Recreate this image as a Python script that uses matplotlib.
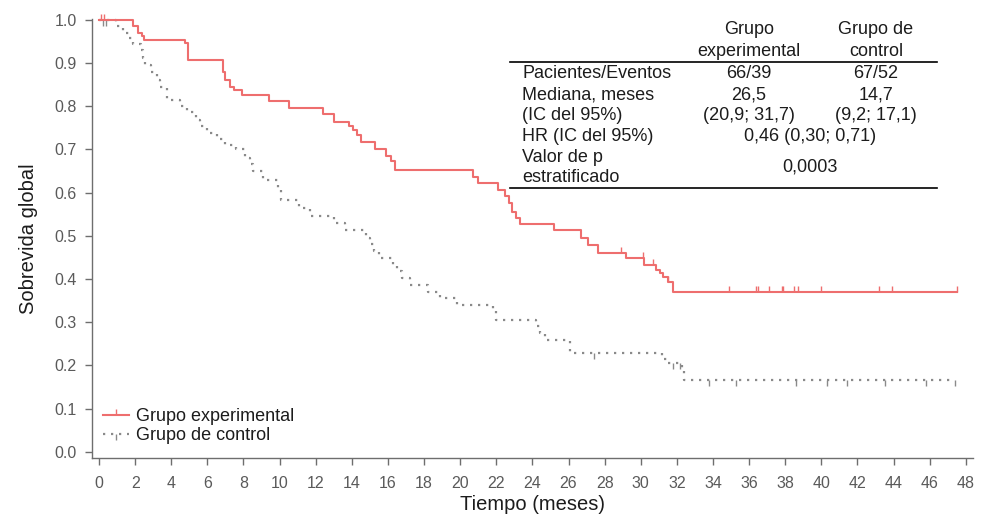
import numpy as np
import matplotlib
matplotlib.use('Agg')
import matplotlib.pyplot as plt
from matplotlib.path import Path
from matplotlib.lines import Line2D

plt.rcParams['font.family'] = ['Liberation Sans', 'DejaVu Sans']

# ---------------- data ----------------
exp_times = [0, 1.9, 2.15, 2.4, 2.5, 4.76, 4.9, 6.85, 6.95, 7.25, 7.45, 7.9, 9.4, 10.5,
             12.4, 13.0, 13.86, 14.05, 14.26, 14.5, 15.3, 15.9, 16.15, 16.4, 20.7, 21.0,
             22.1, 22.5, 22.7, 22.85, 23.1, 23.3, 25.2, 26.7, 27.1, 27.65, 29.2, 30.2,
             30.85, 31.06, 31.25, 31.5, 31.8]
exp_surv = [1.0, 0.986, 0.969, 0.963, 0.954, 0.947, 0.906, 0.880, 0.861, 0.844, 0.838,
            0.826, 0.811, 0.795, 0.782, 0.764, 0.753, 0.745, 0.734, 0.718, 0.700, 0.685,
            0.672, 0.653, 0.637, 0.622, 0.606, 0.591, 0.575, 0.556, 0.541, 0.527, 0.514,
            0.494, 0.479, 0.461, 0.448, 0.432, 0.421, 0.414, 0.405, 0.394, 0.369]
exp_end = 47.5
exp_censor = [0.1, 0.3, 28.9, 30.1, 30.7, 31.5, 34.9, 36.4, 36.5, 37.1, 37.8, 37.9,
              38.5, 38.7, 40.0, 43.2, 43.9, 47.5]

ctl_times = [0, 0.95, 1.35, 1.65, 1.9, 2.3, 2.45, 2.55, 2.9, 3.2, 3.4, 3.75, 4.5, 4.85,
             5.35, 5.6, 6.0, 6.55, 6.95, 7.6, 8.1, 8.35, 8.5, 9.1, 9.9, 10.1, 11.1, 11.7,
             13.0, 13.6, 14.8, 15.0, 15.25, 15.5, 16.3, 16.5, 16.8, 17.2, 18.2, 18.9,
             19.8, 21.8, 22.0, 24.2, 24.4, 24.7, 26.1, 31.2, 31.5, 32.3, 32.4]
ctl_surv = [1.0, 0.985, 0.970, 0.958, 0.944, 0.930, 0.911, 0.896, 0.880, 0.861, 0.845,
            0.815, 0.800, 0.787, 0.768, 0.753, 0.737, 0.724, 0.710, 0.700, 0.680, 0.665,
            0.650, 0.630, 0.610, 0.583, 0.565, 0.545, 0.530, 0.513, 0.495, 0.480, 0.465,
            0.448, 0.430, 0.418, 0.402, 0.386, 0.370, 0.355, 0.340, 0.325, 0.305, 0.290,
            0.275, 0.259, 0.228, 0.214, 0.206, 0.190, 0.167]
ctl_end = 47.4
ctl_censor = [0.2, 0.4, 27.4, 31.8, 32.2, 33.8, 35.3, 38.6, 40.3, 41.4, 43.5, 45.8, 47.4]

x_ticks = list(range(0, 50, 2))
y_ticks = [0.0, 0.1, 0.2, 0.3, 0.4, 0.5, 0.6, 0.7, 0.8, 0.9, 1.0]
y_tick_labels = ['0.0', '0.1', '0.2', '0.3', '0.4', '0.5', '0.6', '0.7', '0.8', '0.9', '1.0']
x_label = 'Tiempo (meses)'
y_label = 'Sobrevida global'
legend_labels = ['Grupo experimental', 'Grupo de control']

col_headers = [['Grupo', 'experimental'], ['Grupo de', 'control']]
row_labels = ['Pacientes/Eventos', 'Mediana, meses', '(IC del 95%)']
col1_values = ['66/39', '26,5', '(20,9; 31,7)']
col2_values = ['67/52', '14,7', '(9,2; 17,1)']
hr_label = 'HR (IC del 95%)'
hr_value = '0,46 (0,30; 0,71)'
p_label = ['Valor de p', 'estratificado']
p_value = '0,0003'

# ---------------- styling ----------------
RED = '#ee6e6e'
GRAY = '#8a8a8a'
AXC = '#6e6e6e'
TXT = '#1c1c1c'
W, H = 981, 514

fig = plt.figure(figsize=(W / 100, H / 100), dpi=100)
ax = fig.add_axes([92 / W, 1 - 458 / H, (973 - 92) / W, (458 - 18.5) / H])

def step_xy(times, surv, end):
    t = np.append(np.asarray(times, float), end)
    s = np.append(np.asarray(surv, float), surv[-1])
    return t, s

def surv_at(times, surv, pts):
    idx = np.searchsorted(np.asarray(times), np.asarray(pts), side='right') - 1
    return np.asarray(surv)[idx]

tick_up = Path([(0, 0), (0, 1)])
tick_dn = Path([(0, 0), (0, -1)])

t, s = step_xy(ctl_times, ctl_surv, ctl_end)
ax.step(t, s, where='post', color=GRAY, lw=1.6, linestyle=(0, (1, 2.6)), clip_on=False)
ax.plot(ctl_censor, surv_at(ctl_times, ctl_surv, ctl_censor), linestyle='none',
        marker=tick_dn, ms=8, mew=1.0, color=GRAY, clip_on=False)

t, s = step_xy(exp_times, exp_surv, exp_end)
ax.step(t, s, where='post', color=RED, lw=1.5, clip_on=False)
ax.plot(exp_censor, surv_at(exp_times, exp_surv, exp_censor), linestyle='none',
        marker=tick_up, ms=8, mew=1.0, color=RED, clip_on=False)

ax.set_xlim(-0.39, 48.4)
ax.set_ylim(-0.0146, 1.003)
ax.set_xticks(x_ticks)
ax.set_yticks(y_ticks)
ax.set_yticklabels(y_tick_labels)
for sp in ['top', 'right']:
    ax.spines[sp].set_visible(False)
for sp in ['left', 'bottom']:
    ax.spines[sp].set_color(AXC)
    ax.spines[sp].set_linewidth(1.0)
ax.tick_params(axis='both', colors=AXC, labelcolor='#5a5a5a', labelsize=11.5,
               length=5, width=1.0, direction='out')
ax.tick_params(axis='x', pad=8)
ax.tick_params(axis='y', pad=6)
ax.set_xlabel(x_label, fontsize=14.5, color=TXT)
ax.set_ylabel(y_label, fontsize=14.5, color=TXT)
ax.xaxis.set_label_coords(0.5, -0.085)
ax.yaxis.set_label_coords(-0.061, 0.5)

# legend
handles = [Line2D([0], [0], color=RED, lw=1.5, marker=tick_up, ms=8, markevery=[1]),
           Line2D([0], [0], color=GRAY, lw=1.6, linestyle=(0, (1, 2.6)), marker=tick_dn,
                  ms=8, markevery=[1])]
ax.legend(handles, legend_labels, loc='upper left', frameon=False, fontsize=13,
          bbox_to_anchor=(103 / W, 1 - 408 / H), bbox_transform=fig.transFigure,
          handlelength=1.45, handletextpad=0.35, labelspacing=0.12, borderpad=0,
          borderaxespad=0, labelcolor=TXT)

# table
def fx(px):
    return px / W

def fy(py):
    return 1 - py / H

tkw = dict(fontsize=13, color=TXT, va='center')
x_lab, x_c1, x_c2, x_mid = 522, 749, 876, 810
for j, hdr in enumerate(col_headers):
    xc = x_c1 if j == 0 else x_c2
    for k, line in enumerate(hdr):
        fig.text(fx(xc), fy(30 + 21.5 * k), line, ha='center', **tkw)
row_y = [73.5, 94.5, 115.5]
for yy, lab, v1, v2 in zip(row_y, row_labels, col1_values, col2_values):
    fig.text(fx(x_lab), fy(yy), lab, ha='left', **tkw)
    fig.text(fx(x_c1), fy(yy), v1, ha='center', **tkw)
    fig.text(fx(x_c2), fy(yy), v2, ha='center', **tkw)
fig.text(fx(x_lab), fy(136.5), hr_label, ha='left', **tkw)
fig.text(fx(x_mid), fy(136.5), hr_value, ha='center', **tkw)
fig.text(fx(x_lab), fy(157.5), p_label[0], ha='left', **tkw)
fig.text(fx(x_lab), fy(178), p_label[1], ha='left', **tkw)
fig.text(fx(x_mid), fy(166.5), p_value, ha='center', **tkw)
for yy in (61.7, 188.3):
    fig.add_artist(Line2D([fx(510), fx(937)], [fy(yy), fy(yy)], color='black', lw=1.2,
                          transform=fig.transFigure))

fig.savefig('out.png', dpi=100)
